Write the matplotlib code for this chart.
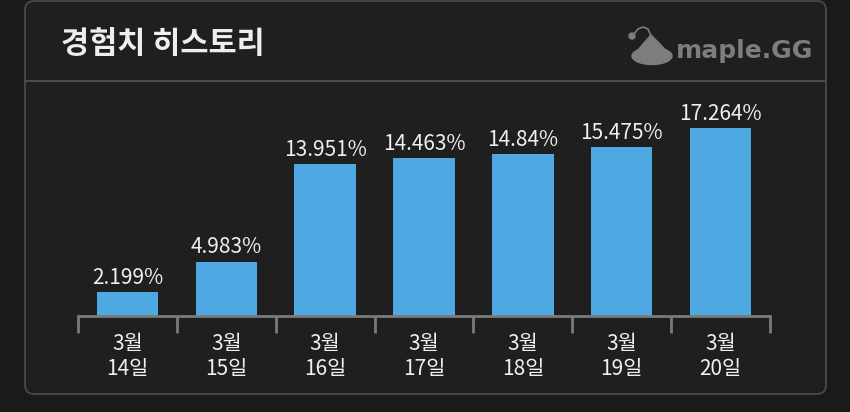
import matplotlib.pyplot as plt
from matplotlib.patches import FancyBboxPatch, Ellipse, Polygon

plt.rcParams['font.family'] = ['Noto Sans CJK KR', 'DejaVu Sans']

# 데이터
months = ["3월"] * 7
days = ["14일", "15일", "16일", "17일", "18일", "19일", "20일"]
exp_pct = [2.199, 4.983, 13.951, 14.463, 14.84, 15.475, 17.264]
value_labels = ["2.199%", "4.983%", "13.951%", "14.463%", "14.84%", "15.475%", "17.264%"]
title = "경험치 히스토리"

W, H = 850, 412
fig = plt.figure(figsize=(W / 100, H / 100), dpi=100)
fig.patch.set_facecolor("#1a1a1a")

# 카드 배경 (픽셀 좌표)
bg = fig.add_axes([0, 0, 1, 1])
bg.set_xlim(0, W)
bg.set_ylim(H, 0)
bg.axis("off")
card = FancyBboxPatch((25, 1), 801, 393, boxstyle="round,pad=0,rounding_size=9",
                      facecolor="#1f1f1f", edgecolor="#4a4a4a", linewidth=1.3)
bg.add_patch(card)
bg.plot([25, 826], [81, 81], color="#4a4a4a", lw=1.5)
bg.text(61, 44, title, color="#eeeeee", fontsize=22, fontweight="bold",
        va="center", ha="left")

# 로고
logo_c = "#7d7d7d"
bg.add_patch(Ellipse((652, 56), 40, 17, color=logo_c))
bg.add_patch(Polygon([[633, 56], [671, 56], [660, 44], [651, 35], [643, 44]],
                     closed=True, color=logo_c))
bg.plot([651, 648, 643, 638, 634], [36, 29, 27, 29, 34], color=logo_c, lw=1.2)
bg.add_patch(Ellipse((632, 36), 6, 6, color=logo_c))
bg.text(676, 51, "maple.GG", color=logo_c, fontsize=18, fontweight="bold",
        va="center", ha="left", family=["DejaVu Sans"])

# 막대 차트
ax = fig.add_axes([78 / W, (H - 316) / H, (770 - 78) / W, (316 - 100) / H])
ax.set_facecolor("none")
x = list(range(len(exp_pct)))
ax.bar(x, exp_pct, width=0.62, color="#4ea9e3")
for xi, v, lab in zip(x, exp_pct, value_labels):
    ax.text(xi, v + 0.3, lab, ha="center", va="bottom", color="#f0f0f0", fontsize=15)

ax.set_xlim(-0.5, len(exp_pct) - 0.5)
ax.set_ylim(0, 216 / 10.89)
for s in ["top", "right", "left"]:
    ax.spines[s].set_visible(False)
ax.spines["bottom"].set_color("#7a7a7a")
ax.spines["bottom"].set_linewidth(2)
ax.set_yticks([])
ax.set_xticks([i - 0.5 for i in range(len(exp_pct) + 1)])
ax.set_xticklabels([])
ax.tick_params(axis="x", length=12, width=2, color="#7a7a7a")
ax.set_xticks(x, minor=True)
ax.set_xticklabels([m + "\n" + d for m, d in zip(months, days)], minor=True)
ax.tick_params(axis="x", which="minor", length=0, pad=12, labelsize=15,
               labelcolor="#f0f0f0")
for t in ax.get_xticklabels(minor=True):
    t.set_linespacing(1.2)

fig.savefig("out.png", dpi=100, facecolor=fig.get_facecolor())
